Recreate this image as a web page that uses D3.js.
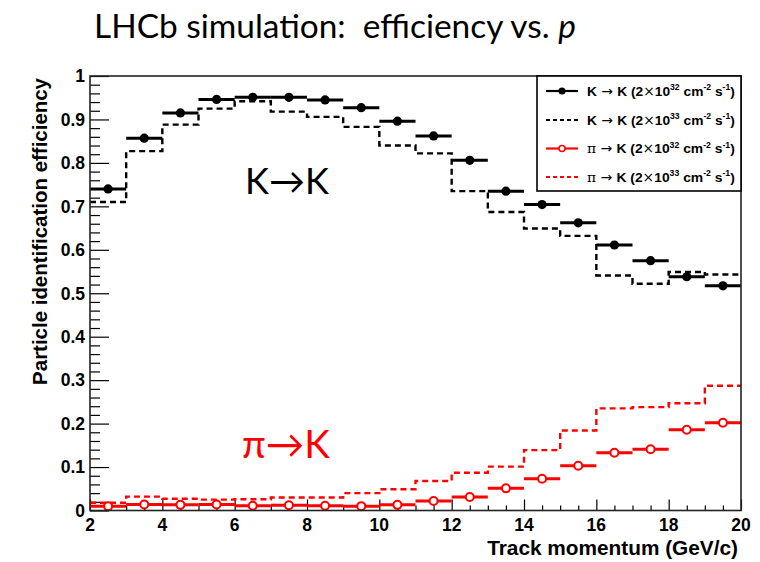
<!DOCTYPE html>
<html>
<head>
<meta charset="utf-8">
<script src="https://cdn.jsdelivr.net/npm/d3@7"></script>
<style>
  html, body { margin: 0; padding: 0; background: #fff; }
  svg { display: block; }
</style>
</head>
<body>
<svg id="chart" width="760" height="562"></svg>
<script>
// ---------- data ----------
const binLow  = [2,3,4,5,6,7,8,9,10,11,12,13,14,15,16,17,18,19];
const binHigh = [3,4,5,6,7,8,9,10,11,12,13,14,15,16,17,18,19,20];
const kk32 = [0.740,0.857,0.915,0.946,0.951,0.951,0.945,0.927,0.896,0.862,0.806,0.735,0.704,0.662,0.611,0.575,0.538,0.517];
const kk33 = [0.710,0.827,0.888,0.925,0.942,0.918,0.906,0.883,0.840,0.822,0.735,0.687,0.649,0.632,0.541,0.522,0.549,0.543];
const pk32 = [0.010,0.014,0.013,0.014,0.011,0.012,0.011,0.010,0.013,0.022,0.031,0.051,0.073,0.103,0.133,0.141,0.186,0.202];
const pk33 = [0.018,0.032,0.027,0.025,0.026,0.030,0.030,0.040,0.049,0.068,0.087,0.101,0.139,0.184,0.235,0.238,0.247,0.287];
const xTickLabels = [2,4,6,8,10,12,14,16,18,20];
const yTickLabels = [0,0.1,0.2,0.3,0.4,0.5,0.6,0.7,0.8,0.9,1];
const legendLabels = [
  {p:"K", exp:"32"}, {p:"K", exp:"33"}, {p:"π", exp:"32"}, {p:"π", exp:"33"}
];

// ---------- layout ----------
const svg = d3.select("#chart");
const L = 90, R = 741, T = 76, B = 510.5;
const x = d3.scaleLinear().domain([2,20]).range([L,R]);
const y = d3.scaleLinear().domain([0,1]).range([B,T]);
const bold = "'Liberation Sans', Arial, sans-serif";
function fitWidth(sel, size, target) {
  const w = sel.node().getComputedTextLength();
  sel.attr("font-size", size * target / w);
}

// title
const title = svg.append("text")
  .attr("x", 94).attr("y", 38)
  .attr("font-family", "Lato, 'Open Sans', sans-serif")
  .attr("font-size", 28).attr("fill", "#000");
title.append("tspan").text("LHCb simulation:\u00a0\u00a0efficiency vs. ");
title.append("tspan").attr("font-style","italic").text("p");
fitWidth(title, 28, 482);

// axes ticks
const yMinor = d3.range(0, 1.0001, 0.02);
const xMinor = d3.range(2, 20.0001, 0.5);
svg.append("g").attr("transform", `translate(${L},0)`)
  .call(d3.axisRight(y).tickValues(yMinor.filter(v => Math.abs(v*10 - Math.round(v*10)) > 1e-6)).tickSize(10).tickFormat(""))
  .call(g => g.select(".domain").remove())
  .selectAll("line").attr("stroke","#000").attr("stroke-width",1.2);
svg.append("g").attr("transform", `translate(${L},0)`)
  .call(d3.axisRight(y).tickValues(yTickLabels).tickSize(19).tickFormat(""))
  .call(g => g.select(".domain").remove())
  .selectAll("line").attr("stroke","#000").attr("stroke-width",1.2);
svg.append("g").attr("transform", `translate(0,${B})`)
  .call(d3.axisTop(x).tickValues(xMinor.filter(v => v % 2 !== 0)).tickSize(5).tickFormat(""))
  .call(g => g.select(".domain").remove())
  .selectAll("line").attr("stroke","#000").attr("stroke-width",1.2);
svg.append("g").attr("transform", `translate(0,${B})`)
  .call(d3.axisTop(x).tickValues(xTickLabels).tickSize(11).tickFormat(""))
  .call(g => g.select(".domain").remove())
  .selectAll("line").attr("stroke","#000").attr("stroke-width",1.2);

// tick labels
svg.append("g").selectAll("text").data(yTickLabels).join("text")
  .attr("x", L - 5).attr("y", d => y(d)).attr("dy", "0.36em")
  .attr("text-anchor", "end")
  .attr("font-family", bold).attr("font-weight", "bold").attr("font-size", 17.5)
  .text(d => d === 0 ? "0" : d === 1 ? "1" : d.toFixed(1));
svg.append("g").selectAll("text").data(xTickLabels).join("text")
  .attr("x", d => x(d)).attr("y", 531)
  .attr("text-anchor", "middle")
  .attr("font-family", bold).attr("font-weight", "bold").attr("font-size", 17.5)
  .text(d => d);

// axis titles
const yTitle = svg.append("text")
  .attr("transform", `translate(47,${T + 2}) rotate(-90)`)
  .attr("text-anchor", "end")
  .attr("font-family", bold).attr("font-weight", "bold").attr("font-size", 16)
  .text("Particle identification efficiency");
fitWidth(yTitle, 16, 307);
const xTitle = svg.append("text")
  .attr("x", 738).attr("y", 555)
  .attr("text-anchor", "end")
  .attr("font-family", bold).attr("font-weight", "bold").attr("font-size", 17)
  .text("Track momentum (GeV/c)");
fitWidth(xTitle, 17, 251);

// ---------- series ----------
const bins = binLow.map((lo, i) => ({lo, hi: binHigh[i], mid: (lo + binHigh[i]) / 2, i}));
const stepLine = vals => d3.line().curve(d3.curveStepAfter)
  (bins.map(b => [x(b.lo), y(vals[b.i])]).concat([[x(20), y(vals[vals.length-1])]]));

// dashed histograms
svg.append("path").attr("d", stepLine(kk33))
  .attr("fill","none").attr("stroke","#000").attr("stroke-width",2.4).attr("stroke-dasharray","6,4");
svg.append("path").attr("d", stepLine(pk33))
  .attr("fill","none").attr("stroke","#ff0000").attr("stroke-width",2.4).attr("stroke-dasharray","6,4");

// solid points with horizontal bin bars
function pointSeries(vals, color, open) {
  const g = svg.append("g");
  g.selectAll("line").data(bins).join("line")
    .attr("x1", b => x(b.lo)).attr("x2", b => x(b.hi))
    .attr("y1", b => y(vals[b.i])).attr("y2", b => y(vals[b.i]))
    .attr("stroke", color).attr("stroke-width", 3);
  g.selectAll("circle").data(bins).join("circle")
    .attr("cx", b => x(b.mid)).attr("cy", b => y(vals[b.i]))
    .attr("r", open ? 4 : 4.6)
    .attr("fill", open ? "#fff" : color)
    .attr("stroke", color).attr("stroke-width", open ? 2 : 0);
}
pointSeries(kk32, "#000", false);
pointSeries(pk32, "#ff0000", true);

// frame
svg.append("rect").attr("x", L).attr("y", T).attr("width", R - L).attr("height", B - T)
  .attr("fill","none").attr("stroke","#222").attr("stroke-width",1.6);

// big annotations
const kk = svg.append("text").attr("x", 245).attr("y", 194)
  .attr("font-family", "Lato, 'Open Sans', sans-serif").attr("font-size", 36).attr("fill","#000")
  .text("K\u2192K");
fitWidth(kk, 36, 84);
const pk = svg.append("text").attr("x", 242).attr("y", 458)
  .attr("font-family", "Lato, 'Open Sans', sans-serif").attr("font-size", 36).attr("fill","#ff0000")
  .text("\u03c0\u2192K");
fitWidth(pk, 36, 88);

// ---------- legend ----------
const lgX = 537, lgY = 76, lgW = R - 537, lgH = 115;
svg.append("rect").attr("x", lgX).attr("y", lgY).attr("width", lgW).attr("height", lgH)
  .attr("fill","#fff").attr("stroke","#000").attr("stroke-width",1.6);
const lgRows = [91, 120, 148.5, 177];
const lgStyle = [
  {color:"#000", dash:null, marker:"filled"},
  {color:"#000", dash:"4,3", marker:null},
  {color:"#ff0000", dash:null, marker:"open"},
  {color:"#ff0000", dash:"4,3", marker:null}
];
legendLabels.forEach((lab, i) => {
  const yy = lgRows[i], st = lgStyle[i];
  svg.append("line").attr("x1", 546).attr("x2", 578).attr("y1", yy).attr("y2", yy)
    .attr("stroke", st.color).attr("stroke-width", 2.2)
    .attr("stroke-dasharray", st.dash);
  if (st.marker) {
    svg.append("circle").attr("cx", 562).attr("cy", yy).attr("r", st.marker === "open" ? 3 : 3.6)
      .attr("fill", st.marker === "open" ? "#fff" : st.color)
      .attr("stroke", st.color).attr("stroke-width", st.marker === "open" ? 1.5 : 0);
  }
  const fs = 13.5, sfs = 8.5;
  const t = svg.append("text").attr("x", 587).attr("y", yy + 5)
    .attr("font-family", bold).attr("font-weight", "bold").attr("font-size", fs).attr("fill", "#000");
  if (lab.p === "π") t.append("tspan").attr("font-weight","normal").attr("font-family","'DejaVu Serif', serif").text("π");
  else t.append("tspan").text("K");
  t.append("tspan").attr("font-weight","normal").attr("font-family","'DejaVu Sans', sans-serif").text(" \u2192 ");
  t.append("tspan").text("K (2");
  t.append("tspan").attr("font-weight","normal").attr("font-family","'DejaVu Sans', sans-serif").text("\u00d7");
  t.append("tspan").text("10");
  t.append("tspan").attr("font-size", sfs).attr("dy", -5.5).text(lab.exp);
  t.append("tspan").attr("dy", 5.5).text(" cm");
  t.append("tspan").attr("font-size", sfs).attr("dy", -5.5).text("-2");
  t.append("tspan").attr("dy", 5.5).text(" s");
  t.append("tspan").attr("font-size", sfs).attr("dy", -5.5).text("-1");
  t.append("tspan").attr("dy", 5.5).text(")");
  const w = t.node().getComputedTextLength();
  if (w > 0) t.attr("transform", `translate(587,0) scale(${148 / w},1) translate(-587,0)`);
});
</script>
</body>
</html>
